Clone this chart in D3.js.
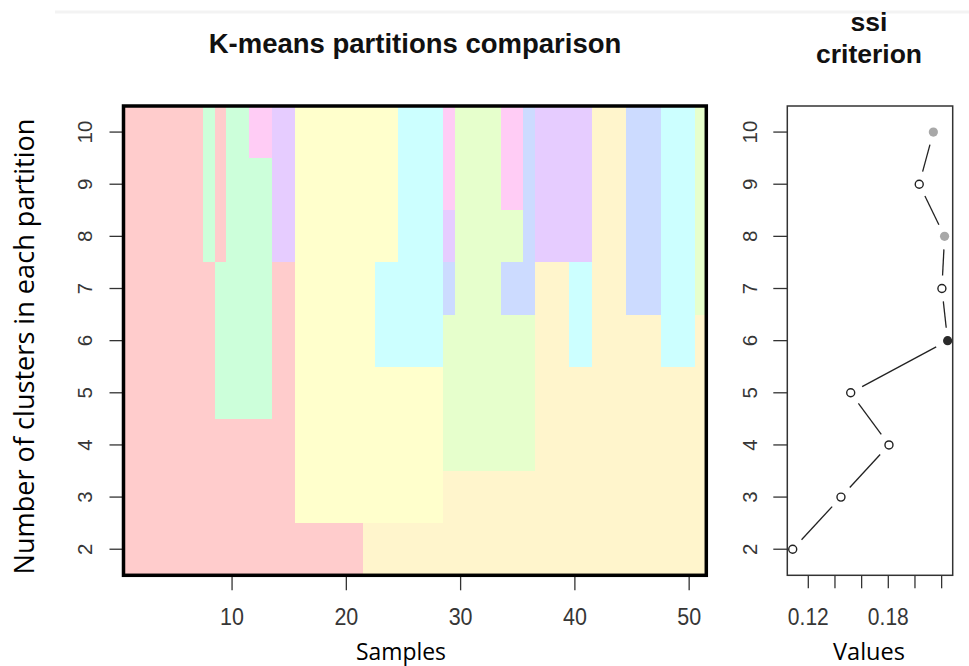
<!DOCTYPE html>
<html>
<head>
<meta charset="utf-8">
<script src="https://cdn.jsdelivr.net/npm/d3@7"></script>
<style>
  body { margin: 0; background: #fff; }
  svg { display: block; }
</style>
</head>
<body>
<svg id="chart" width="969" height="666"></svg>
<script>
// ---- data -------------------------------------------------------------
// Number of groups in each K-means partition (rows of the left panel)
const kValues = [2, 3, 4, 5, 6, 7, 8, 9, 10];
const sampleCount = 51;

// Cluster membership of samples 1..51 for every partition, as runs of
// [cluster colour key, number of consecutive samples]
const partitionRuns = [
  [["P",21],["C",30]],                                                                  // k = 2
  [["P",15],["Y",13],["C",23]],                                                         // k = 3
  [["P",15],["Y",13],["L",8],["C",15]],                                                 // k = 4
  [["P",8],["G",5],["P",2],["Y",13],["L",8],["C",15]],                                  // k = 5
  [["P",8],["G",5],["P",2],["Y",7],["A",6],["L",8],["C",3],["A",2],["C",6],["A",3],["C",1]], // k = 6
  [["P",8],["G",5],["P",2],["Y",7],["A",6],["B",1],["L",4],["B",3],["C",3],["A",2],["C",3],["B",3],["A",3],["L",1]], // k = 7
  [["P",7],["G",1],["P",1],["G",4],["V",2],["Y",9],["A",4],["V",1],["L",6],["B",1],["V",5],["C",3],["B",3],["A",3],["L",1]], // k = 8
  [["P",7],["G",1],["P",1],["G",4],["V",2],["Y",9],["A",4],["M",1],["L",4],["M",2],["B",1],["V",5],["C",3],["B",3],["A",3],["L",1]], // k = 9
  [["P",7],["G",1],["P",1],["G",2],["M",2],["V",2],["Y",9],["A",4],["M",1],["L",4],["M",2],["B",1],["V",5],["C",3],["B",3],["A",3],["L",1]]  // k = 10
];

// Pastel fill for each cluster key
const clusterKeys    = ["P", "C", "Y", "G", "L", "A", "B", "V", "M"];
const clusterColours = ["#ffcccc", "#fff5cc", "#ffffcc", "#ccffda", "#e6ffcc", "#ccffff", "#ccdbff", "#e6ccff", "#ffccf5"];

// Simple structure index (ssi) of each partition
const ssiValues  = [0.1083, 0.1445, 0.1805, 0.1518, 0.2245, 0.2202, 0.2222, 0.2032, 0.2138];
// Marker of each point: open circle, best partition, runner-up partitions
const ssiMarkers = ["open", "open", "open", "open", "best", "open", "second", "open", "second"];

const sampleTicks = [10, 20, 30, 40, 50];
const ssiTicks    = [0.12, 0.14, 0.16, 0.18, 0.20, 0.22];
const ssiTickLabels = ["0.12", "", "", "0.18", "", ""];

// ---- layout -----------------------------------------------------------
const svg = d3.select("#chart");
const panelL = { x0: 123.5, x1: 706.3, y0: 106, y1: 575.3 };
const panelR = { x0: 787.3, x1: 952.7 };

const x = d3.scaleLinear().domain([0.5, sampleCount + 0.5]).range([panelL.x0, panelL.x1]);
const y = d3.scaleLinear()
  .domain([kValues[0] - 0.5, kValues[kValues.length - 1] + 0.5])
  .range([panelL.y1, panelL.y0]);
const xs = d3.scaleLinear().domain([0.10425, 0.2283]).range([panelR.x0, panelR.x1]);
const colour = d3.scaleOrdinal().domain(clusterKeys).range(clusterColours);

const tickFont  = "'Liberation Sans', Arial, sans-serif";
const labelFont = "'Open Sans', Lato, sans-serif";
const tickColour = "#363636";

// faint rule along the top of the figure
svg.append("line")
  .attr("x1", 55).attr("x2", 969).attr("y1", 12).attr("y2", 12)
  .attr("stroke", "#f3f3f3").attr("stroke-width", 3);

// ---- left panel: partition cells ---------------------------------------
const cells = [];
kValues.forEach((k, r) => {
  let start = 1;
  partitionRuns[r].forEach(([key, n]) => {
    cells.push({ k, key, from: start, to: start + n - 1 });
    start += n;
  });
});

svg.append("g")
  .selectAll("rect")
  .data(cells)
  .join("rect")
  .attr("x", d => x(d.from - 0.5))
  .attr("width", d => x(d.to + 0.5) - x(d.from - 0.5))
  .attr("y", d => y(d.k + 0.5))
  .attr("height", d => y(d.k - 0.5) - y(d.k + 0.5))
  .attr("fill", d => colour(d.key))
  .attr("shape-rendering", "crispEdges");

// x axis (samples)
const gx = svg.append("g");
gx.selectAll("line").data(sampleTicks).join("line")
  .attr("x1", d => x(d)).attr("x2", d => x(d))
  .attr("y1", panelL.y1).attr("y2", panelL.y1 + 15)
  .attr("stroke", "#333").attr("stroke-width", 1.3);
gx.selectAll("text").data(sampleTicks).join("text")
  .attr("transform", d => `translate(${x(d)},625) scale(1,1.12)`)
  .attr("text-anchor", "middle")
  .style("font-family", tickFont).style("font-size", "21.5px").attr("fill", tickColour)
  .text(d => d);

// y axis (number of groups)
const gy = svg.append("g");
gy.selectAll("line").data(kValues).join("line")
  .attr("x1", panelL.x0 - 14).attr("x2", panelL.x0)
  .attr("y1", d => y(d)).attr("y2", d => y(d))
  .attr("stroke", "#333").attr("stroke-width", 1.3);
gy.selectAll("text").data(kValues).join("text")
  .attr("transform", d => `translate(84,${y(d)}) rotate(-90)`)
  .attr("text-anchor", "middle").attr("dominant-baseline", "central")
  .style("font-family", tickFont).style("font-size", "20.5px").attr("fill", tickColour)
  .text(d => d);

// frame
svg.append("rect")
  .attr("x", panelL.x0).attr("y", panelL.y0)
  .attr("width", panelL.x1 - panelL.x0).attr("height", panelL.y1 - panelL.y0)
  .attr("fill", "none").attr("stroke", "#000").attr("stroke-width", 3.5);

// ---- right panel: ssi criterion ----------------------------------------
const gr = svg.append("g");
gr.selectAll("line.tk").data(ssiTicks).join("line")
  .attr("class", "tk")
  .attr("x1", d => xs(d)).attr("x2", d => xs(d))
  .attr("y1", panelL.y1).attr("y2", panelL.y1 + 13)
  .attr("stroke", "#333").attr("stroke-width", 1.3);
gr.selectAll("text.tk").data(ssiTicks).join("text")
  .attr("class", "tk")
  .attr("transform", d => `translate(${xs(d)},625) scale(1,1.12)`)
  .attr("text-anchor", "middle")
  .style("font-family", tickFont).style("font-size", "21px").attr("fill", tickColour)
  .text((d, i) => ssiTickLabels[i]);

gr.selectAll("line.ky").data(kValues).join("line")
  .attr("class", "ky")
  .attr("x1", panelR.x0 - 14).attr("x2", panelR.x0)
  .attr("y1", d => y(d)).attr("y2", d => y(d))
  .attr("stroke", "#333").attr("stroke-width", 1.3);
gr.selectAll("text.ky").data(kValues).join("text")
  .attr("class", "ky")
  .attr("transform", d => `translate(749,${y(d)}) rotate(-90)`)
  .attr("text-anchor", "middle").attr("dominant-baseline", "central")
  .style("font-family", tickFont).style("font-size", "20.5px").attr("fill", tickColour)
  .text(d => d);

// connecting segments, stopped short of each marker
const pts = kValues.map((k, i) => ({ k, v: ssiValues[i], px: xs(ssiValues[i]), py: y(k), m: ssiMarkers[i] }));
const gap = 13;
const segs = d3.pairs(pts).map(([a, b]) => {
  const dx = b.px - a.px, dy = b.py - a.py, len = Math.hypot(dx, dy);
  const ux = dx / len, uy = dy / len;
  return { x1: a.px + ux * gap, y1: a.py + uy * gap, x2: b.px - ux * gap, y2: b.py - uy * gap };
});
gr.selectAll("line.seg").data(segs).join("line")
  .attr("class", "seg")
  .attr("x1", d => d.x1).attr("y1", d => d.y1)
  .attr("x2", d => d.x2).attr("y2", d => d.y2)
  .attr("stroke", "#222").attr("stroke-width", 1.3);

gr.selectAll("circle").data(pts).join("circle")
  .attr("cx", d => d.px).attr("cy", d => d.py)
  .attr("r", d => d.m === "open" ? 4 : 4.6)
  .attr("fill", d => d.m === "open" ? "#fff" : d.m === "best" ? "#2a2a2a" : "#a8a8a8")
  .attr("stroke", d => d.m === "open" ? "#222" : "none")
  .attr("stroke-width", 1.4);

svg.append("rect")
  .attr("x", panelR.x0).attr("y", panelL.y0)
  .attr("width", panelR.x1 - panelR.x0).attr("height", panelL.y1 - panelL.y0)
  .attr("fill", "none").attr("stroke", "#333").attr("stroke-width", 1.5);

// ---- titles and axis labels ---------------------------------------------
const titleFont = "'Liberation Sans', Arial, sans-serif";
svg.append("text")
  .attr("x", 415).attr("y", 53)
  .attr("text-anchor", "middle")
  .style("font-family", titleFont).style("font-weight", "bold").style("font-size", "27.5px")
  .attr("fill", "#111")
  .text("K-means partitions comparison");
svg.append("text")
  .attr("x", 869).attr("y", 31)
  .attr("text-anchor", "middle")
  .style("font-family", titleFont).style("font-weight", "bold").style("font-size", "26.5px")
  .attr("fill", "#111")
  .text("ssi");
svg.append("text")
  .attr("x", 869).attr("y", 63)
  .attr("text-anchor", "middle")
  .style("font-family", titleFont).style("font-weight", "bold").style("font-size", "26.5px")
  .attr("fill", "#111")
  .text("criterion");

// fit a label's font size so that it spans the given width
function fitLabel(sel, width, base) {
  sel.style("font-size", base + "px");
  const w = sel.node().getComputedTextLength();
  if (w > 0) sel.style("font-size", (base * width / w).toFixed(2) + "px");
  return sel;
}

fitLabel(svg.append("text")
  .attr("x", 401).attr("y", 659.5)
  .attr("text-anchor", "middle")
  .style("font-family", labelFont).attr("fill", "#000")
  .text("Samples"), 90, 23);

fitLabel(svg.append("text")
  .attr("x", 869).attr("y", 659.5)
  .attr("text-anchor", "middle")
  .style("font-family", labelFont).attr("fill", "#000")
  .text("Values"), 72, 23);

fitLabel(svg.append("text")
  .attr("transform", "translate(33.5,346.5) rotate(-90)")
  .attr("text-anchor", "middle")
  .style("font-family", labelFont).attr("fill", "#000")
  .text("Number of clusters in each partition"), 456, 26);
</script>
</body>
</html>
